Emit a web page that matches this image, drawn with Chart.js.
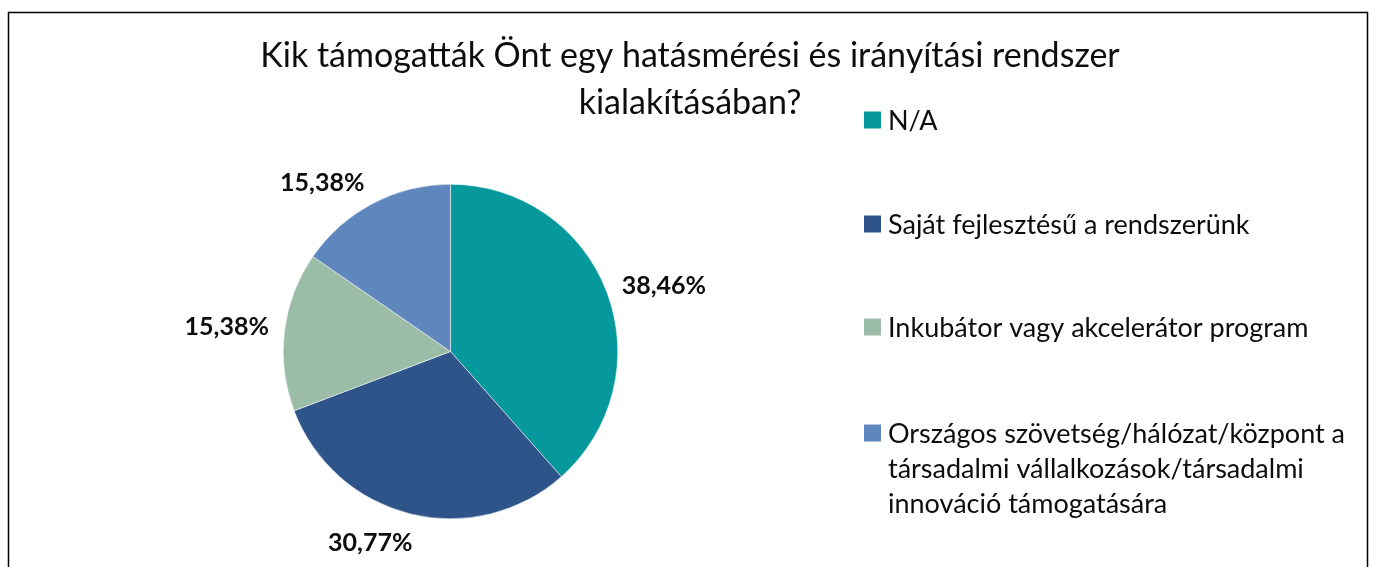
<!DOCTYPE html>
<html lang="hu">
<head>
  <meta charset="UTF-8">
  <title>Kik támogatták Önt</title>
  <script src="https://cdn.jsdelivr.net/npm/chart.js"></script>
  <style>
    html, body { margin: 0; padding: 0; background: #fff; }
    #wrap { width: 1375px; height: 567px; }
  </style>
</head>
<body>
  <div id="wrap"><canvas id="pieChart" width="1375" height="567"></canvas></div>

  <script>
    // Chart data
    const titleLines = ['Kik támogatták Önt egy hatásmérési és irányítási rendszer', 'kialakításában?'];
    const categories = [
      'N/A',
      'Saját fejlesztésű a rendszerünk',
      'Inkubátor vagy akcelerátor program',
      'Országos szövetség/hálózat/központ a társadalmi vállalkozások/társadalmi innováció támogatására'
    ];
    const shares = [38.46, 30.77, 15.38, 15.38];
    const sliceColors = ['#05999D', '#2E5489', '#9BBDA8', '#5F87BE'];
    // small angular nudge (degrees) per label, like Excel's "best fit"
    const labelNudge = [2, 7, 0, -7];

    const FONT = 'Lato, "Open Sans", sans-serif';

    // Frame around the chart
    const framePlugin = {
      id: 'frame',
      beforeDraw(chart) {
        const ctx = chart.ctx;
        ctx.save();
        ctx.fillStyle = '#fff';
        ctx.fillRect(0, 0, chart.width, chart.height);
        ctx.strokeStyle = '#000';
        ctx.lineWidth = 1.5;
        ctx.strokeRect(8.5, 12.5, 1359, 600);
        ctx.restore();
      }
    };

    // Title, drawn by hand to place it like the original
    const titlePlugin = {
      id: 'titleText',
      afterDraw(chart) {
        const ctx = chart.ctx;
        ctx.save();
        ctx.font = '34px ' + FONT;
        ctx.fillStyle = '#0d0d0d';
        ctx.textAlign = 'center';
        ctx.textBaseline = 'alphabetic';
        titleLines.forEach((line, i) => ctx.fillText(line, 690, 67 + i * 47));
        ctx.restore();
      }
    };

    // Percentage labels outside the slices
    const labelPlugin = {
      id: 'pctLabels',
      afterDatasetsDraw(chart) {
        const ctx = chart.ctx;
        const meta = chart.getDatasetMeta(0);
        ctx.save();
        ctx.font = 'bold 25px ' + FONT;
        ctx.fillStyle = '#0d0d0d';
        ctx.textAlign = 'center';
        ctx.textBaseline = 'middle';
        meta.data.forEach((arc, i) => {
          const mid = (arc.startAngle + arc.endAngle) / 2 + labelNudge[i] * Math.PI / 180;
          const dx = Math.cos(mid), dy = Math.sin(mid);
          const text = shares[i].toFixed(2).replace('.', ',') + '%';
          const w = ctx.measureText(text).width;
          const r = arc.outerRadius + 16;
          const x = arc.x + dx * r + dx * w / 2;
          const y = arc.y + dy * r + dy * 22;
          ctx.fillText(text, x, y);
        });
        ctx.restore();
      }
    };

    // Legend on the right, with wrapped long entries
    const legendPlugin = {
      id: 'sideLegend',
      afterDraw(chart) {
        const ctx = chart.ctx;
        const boxX = 864, textX = 888, maxW = 470;
        const itemTops = [120, 224, 327, 433];
        ctx.save();
        ctx.font = '27px ' + FONT;
        ctx.textBaseline = 'middle';
        categories.forEach((label, i) => {
          ctx.fillStyle = sliceColors[i];
          ctx.fillRect(boxX, itemTops[i] - 8.5, 17, 17);
          // wrap words
          const words = label.split(' ');
          const lines = [];
          let cur = '';
          words.forEach(wd => {
            const test = cur ? cur + ' ' + wd : wd;
            if (ctx.measureText(test).width > maxW && cur) {
              lines.push(cur);
              cur = wd;
            } else {
              cur = test;
            }
          });
          lines.push(cur);
          ctx.fillStyle = '#0d0d0d';
          lines.forEach((ln, j) => ctx.fillText(ln, textX, itemTops[i] + 1 + j * 35));
        });
        ctx.restore();
      }
    };

    const ctx = document.getElementById('pieChart').getContext('2d');
    new Chart(ctx, {
      type: 'pie',
      data: {
        labels: categories,
        datasets: [{
          data: shares,
          backgroundColor: sliceColors,
          borderColor: '#ffffff',
          borderWidth: 0.5
        }]
      },
      options: {
        responsive: false,
        animation: false,
        layout: {
          padding: { left: 283, right: 757, top: 184, bottom: 48 }
        },
        plugins: {
          legend: { display: false },
          title: { display: false },
          tooltip: { enabled: false }
        }
      },
      plugins: [framePlugin, titlePlugin, labelPlugin, legendPlugin]
    });
  </script>
</body>
</html>
